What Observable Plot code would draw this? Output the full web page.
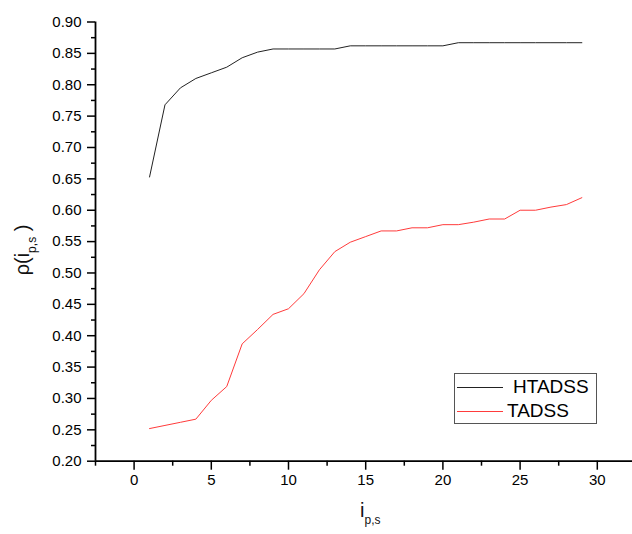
<!DOCTYPE html>
<html>
<head>
<meta charset="utf-8">
<script src="https://cdn.jsdelivr.net/npm/d3@7"></script>
<script src="https://cdn.jsdelivr.net/npm/@observablehq/plot@0.6"></script>
<style>
  body { margin: 0; background: #fff; }
  #wrap { position: relative; width: 632px; height: 534px; font-family: "Liberation Sans", Arial, sans-serif; color: #000; }
  #wrap svg { position: absolute; left: 0; top: 0; }
  .lbl { position: absolute; color: #111; white-space: nowrap; line-height: 1; }
  .lbl sub { font-size: 12px; position: relative; top: 7px; vertical-align: baseline; }
  #legend { position: absolute; left: 454px; top: 373px; width: 141px; height: 49px; border: 1px solid #555; background: #fff; }
  .lg { position: absolute; font-size: 19px; line-height: 20px; color: #000; }
  .sw { position: absolute; height: 0; width: 46px; left: 2px; }
</style>
</head>
<body>
<div id="wrap"></div>
<script>
// Data
const xs = [1,2,3,4,5,6,7,8,9,10,11,12,13,14,15,16,17,18,19,20,21,22,23,24,25,26,27,28,29];
const htadss = [0.653,0.768,0.795,0.810,0.819,0.828,0.843,0.852,0.857,0.857,0.857,0.857,0.857,0.862,0.862,0.862,0.862,0.862,0.862,0.862,0.867,0.867,0.867,0.867,0.867,0.867,0.867,0.867,0.867];
const tadss = [0.252,0.257,0.262,0.267,0.297,0.319,0.387,0.410,0.434,0.443,0.467,0.505,0.534,0.549,0.558,0.567,0.567,0.572,0.572,0.577,0.577,0.581,0.586,0.586,0.600,0.600,0.605,0.609,0.620];
const seriesNames = ["HTADSS", "TADSS"];
const xTicks = [0,5,10,15,20,25,30];
const xMinor = [-2.5,2.5,7.5,12.5,17.5,22.5,27.5];
const yTicks = [0.20,0.25,0.30,0.35,0.40,0.45,0.50,0.55,0.60,0.65,0.70,0.75,0.80,0.85,0.90];
const yMinor = [0.225,0.275,0.325,0.375,0.425,0.475,0.525,0.575,0.625,0.675,0.725,0.775,0.825,0.875];

const rows = [];
xs.forEach((x, i) => {
  rows.push({x, y: htadss[i], s: seriesNames[0]});
  rows.push({x, y: tadss[i], s: seriesNames[1]});
});

const chart = Plot.plot({
  width: 632,
  height: 534,
  marginLeft: 95,
  marginRight: 0,
  marginTop: 21.5,
  marginBottom: 73.3,
  style: {fontFamily: "Liberation Sans, Arial, sans-serif", fontSize: "15px", background: "transparent", color: "#000"},
  x: {domain: [-2.5, 32.28]},
  y: {domain: [0.2, 0.9]},
  color: {domain: seriesNames, range: ["#222222", "#ff3b3b"]},
  marks: [
    Plot.axisX(xTicks, {tickSize: 9, tickPadding: 4, fontSize: 15, tickFormat: d => d, label: null, stroke: "#000", strokeWidth: 1.5}),
    Plot.axisX(xMinor, {tickSize: 5, tickFormat: () => "", label: null, stroke: "#000", strokeWidth: 1.5}),
    Plot.axisY(yTicks, {tickSize: 8, tickPadding: 6, fontSize: 15, tickFormat: d3.format(".2f"), label: null, stroke: "#000", strokeWidth: 1.5}),
    Plot.axisY(yMinor, {tickSize: 4, tickFormat: () => "", label: null, stroke: "#000", strokeWidth: 1.5}),
    Plot.ruleX([-2.5], {stroke: "#000", strokeWidth: 1.8}),
    Plot.ruleY([0.2], {stroke: "#000", strokeWidth: 1.8}),
    Plot.line(rows, {x: "x", y: "y", z: "s", stroke: "s", strokeWidth: 1})
  ]
});

const wrap = document.getElementById("wrap");
wrap.appendChild(chart);

// Axis titles
const xl = document.createElement("div");
xl.className = "lbl";
xl.style.left = "360px";
xl.style.top = "500px";
xl.style.fontSize = "20px";
xl.innerHTML = "i<sub>p,s</sub>";
wrap.appendChild(xl);

const yl = document.createElement("div");
yl.className = "lbl";
yl.style.fontSize = "20px";
yl.style.left = "22px";
yl.style.top = "250px";
yl.style.transformOrigin = "0 0";
yl.style.transform = "rotate(-90deg) translate(-50%, -50%)";
yl.innerHTML = "ρ(i<sub>p,s</sub>&nbsp;)";
wrap.appendChild(yl);

// Legend
const lg = document.createElement("div");
lg.id = "legend";
const colors = ["#222222", "#ff3b3b"];
const textLeft = [58, 52];
const rowY = [13, 37];
seriesNames.forEach((n, i) => {
  const sw = document.createElement("div");
  sw.className = "sw";
  sw.style.top = rowY[i] + "px";
  sw.style.borderTop = "1px solid " + colors[i];
  lg.appendChild(sw);
  const t = document.createElement("div");
  t.className = "lg";
  t.style.left = textLeft[i] + "px";
  t.style.top = (rowY[i] - 10) + "px";
  t.textContent = n;
  lg.appendChild(t);
});
wrap.appendChild(lg);
</script>
</body>
</html>
